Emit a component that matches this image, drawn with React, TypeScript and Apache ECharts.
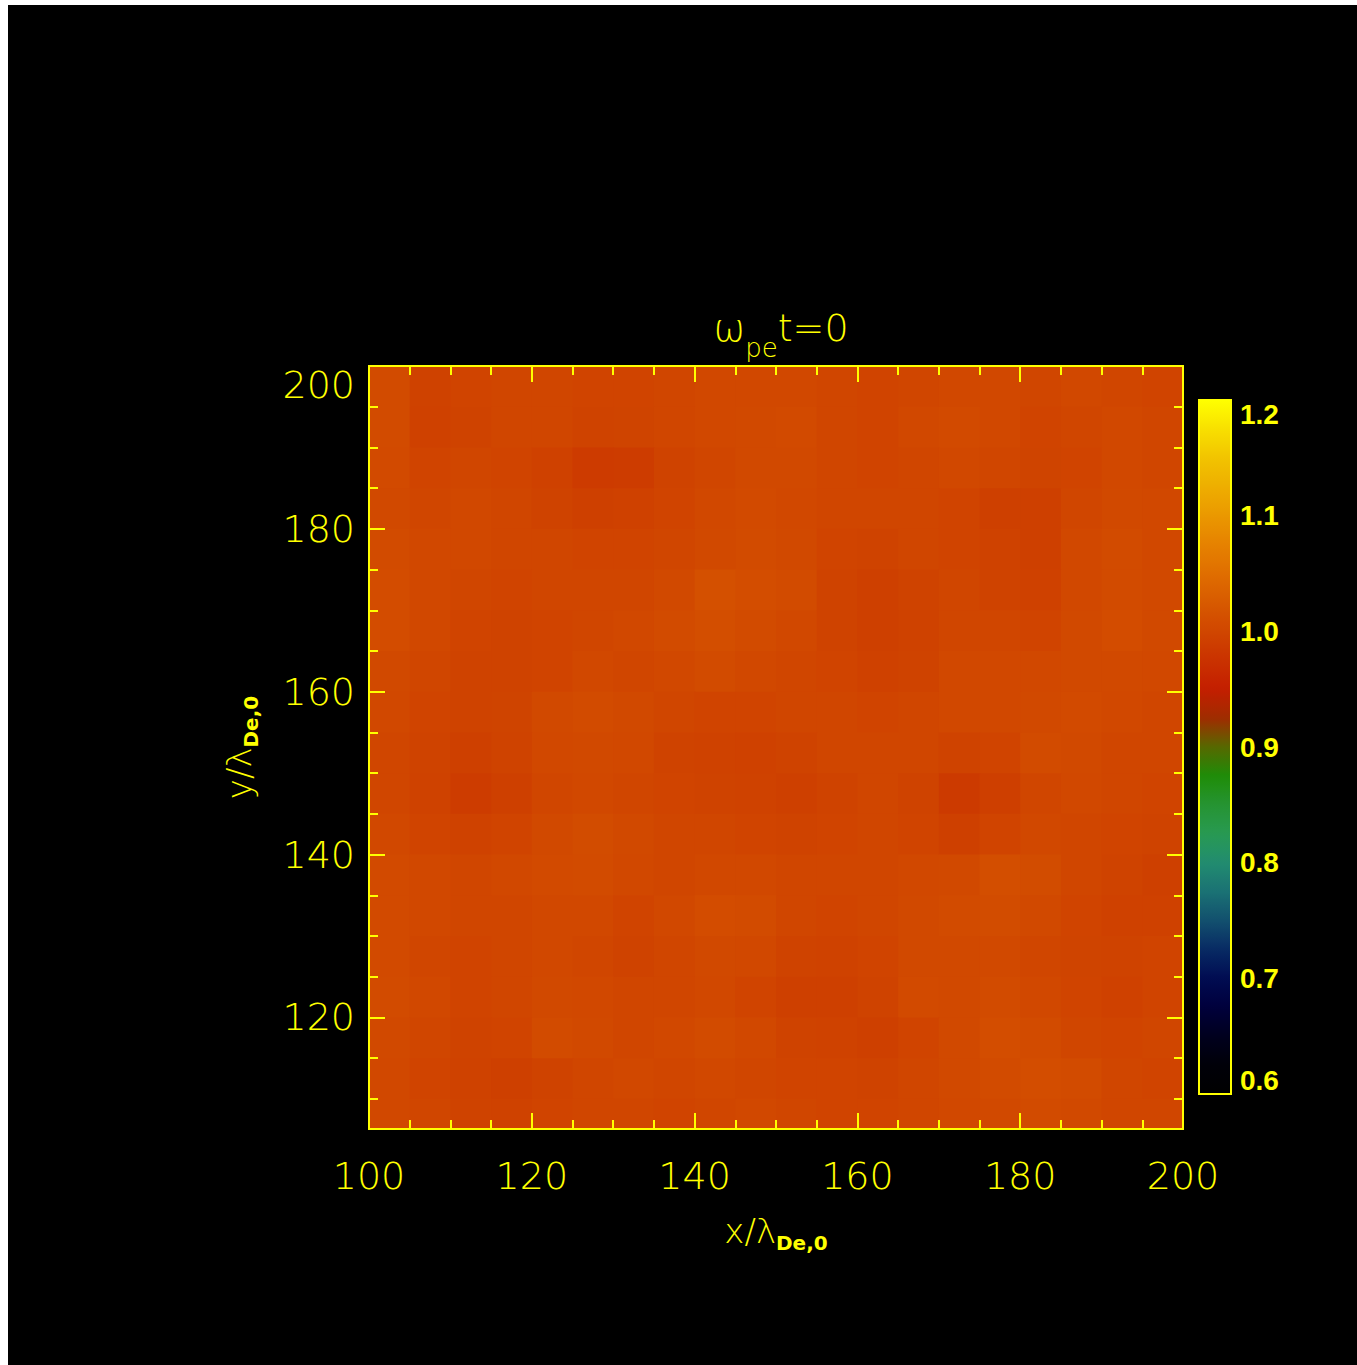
import React, { useEffect, useRef } from "react";
import * as echarts from "echarts";

// Plot extents (in Debye lengths)
const X_MIN = 100;
const X_MAX = 200;
const Y_MIN = 106.3;
const Y_MAX = 200;
const CELL = 5;

// Tick positions on the y axes
const yMajorTicks = [120, 140, 160, 180, 200];
const yMinorTicks = [110, 115, 125, 130, 135, 145, 150, 155, 165, 170, 175, 185, 190, 195];

// Normalised electron density, 5x5 cells; first row is y = 195..200, columns x = 100..200
const densityRows: number[][] = [
  [1.006, 0.995, 0.998, 1.0, 1.0, 0.998, 0.998, 1.0, 1.002, 1.002, 1.003, 1.0, 0.998, 1.0, 1.003, 1.002, 1.0, 1.002, 1.0, 0.998],
  [1.006, 0.994, 0.996, 1.0, 1.0, 0.996, 0.997, 1.0, 1.002, 1.004, 1.005, 1.0, 0.998, 1.002, 1.005, 1.002, 0.998, 1.0, 1.002, 1.0],
  [1.005, 0.998, 1.0, 0.998, 0.994, 0.986, 0.988, 0.996, 1.0, 1.004, 1.004, 1.0, 0.998, 1.0, 1.002, 1.0, 0.997, 0.998, 1.003, 1.0],
  [1.004, 1.0, 1.003, 1.0, 0.996, 0.992, 0.994, 0.998, 1.002, 1.005, 1.003, 1.0, 1.0, 1.0, 0.998, 0.992, 0.993, 1.0, 1.004, 1.002],
  [1.006, 1.002, 1.002, 1.0, 1.0, 0.998, 0.998, 1.0, 1.004, 1.006, 1.004, 0.998, 0.996, 1.0, 0.998, 0.995, 0.993, 1.002, 1.006, 1.003],
  [1.008, 1.003, 1.0, 0.998, 1.0, 1.0, 1.0, 1.004, 1.012, 1.009, 1.006, 0.996, 0.992, 0.996, 1.0, 0.996, 0.994, 1.002, 1.006, 1.004],
  [1.008, 1.002, 0.998, 0.996, 0.998, 1.0, 1.002, 1.006, 1.01, 1.006, 1.002, 0.996, 0.992, 0.995, 1.0, 1.0, 0.998, 1.004, 1.008, 1.004],
  [1.004, 1.0, 0.996, 0.996, 0.998, 1.002, 1.0, 1.002, 1.006, 1.003, 1.0, 0.998, 0.994, 0.996, 1.002, 1.003, 1.002, 1.004, 1.004, 1.002],
  [1.002, 0.998, 0.996, 0.997, 1.004, 1.006, 1.004, 1.0, 0.998, 0.998, 1.0, 1.0, 0.998, 1.0, 1.002, 1.003, 1.004, 1.005, 1.002, 1.0],
  [1.0, 0.996, 0.993, 0.996, 1.002, 1.004, 1.002, 0.996, 0.995, 0.994, 0.996, 1.0, 1.0, 1.0, 0.996, 0.998, 1.006, 1.004, 1.0, 1.0],
  [1.0, 0.995, 0.988, 0.993, 1.0, 1.002, 1.0, 0.998, 0.996, 0.995, 0.992, 0.996, 1.0, 0.996, 0.985, 0.991, 1.0, 1.002, 1.0, 0.998],
  [1.003, 0.998, 0.995, 0.998, 1.004, 1.007, 1.004, 1.0, 1.0, 0.998, 0.996, 0.998, 1.0, 0.998, 0.993, 0.998, 1.002, 1.0, 0.998, 0.996],
  [1.005, 1.002, 1.0, 1.002, 1.005, 1.006, 1.002, 1.0, 1.003, 1.002, 1.0, 1.0, 1.0, 1.002, 1.004, 1.01, 1.007, 1.0, 0.996, 0.992],
  [1.005, 1.002, 1.0, 1.0, 1.003, 1.002, 0.998, 1.002, 1.008, 1.006, 1.0, 0.998, 1.0, 1.004, 1.006, 1.007, 1.004, 0.998, 0.994, 0.994],
  [1.005, 1.0, 0.998, 1.0, 1.002, 1.0, 0.996, 1.0, 1.004, 1.002, 0.996, 0.995, 0.998, 1.004, 1.004, 1.004, 1.0, 0.997, 0.996, 0.998],
  [1.006, 1.002, 0.998, 1.0, 1.004, 1.003, 1.0, 1.0, 1.002, 0.998, 0.992, 0.993, 0.996, 1.005, 1.004, 1.006, 1.002, 0.998, 0.994, 0.998],
  [1.004, 1.0, 0.996, 0.998, 1.006, 1.004, 1.0, 1.002, 1.006, 1.002, 0.996, 0.995, 0.992, 0.998, 1.004, 1.009, 1.006, 1.0, 0.998, 1.0],
  [1.002, 0.998, 0.995, 0.992, 0.996, 1.0, 1.002, 1.0, 1.002, 1.0, 0.998, 0.998, 0.996, 1.0, 1.004, 1.006, 1.009, 1.006, 1.0, 0.998],
  [1.002, 1.0, 0.996, 0.995, 0.998, 1.0, 1.0, 0.998, 1.0, 1.002, 1.0, 0.998, 0.998, 1.0, 1.002, 1.004, 1.006, 1.004, 1.0, 1.0],
];

// Colour scale 0.6 .. 1.2, evenly spaced stops
const COLOR_MIN = 0.6;
const COLOR_MAX = 1.2;
const colorStops = [
  "#000000", "#000008", "#00001e", "#00003c", "#000c52", "#082a64", "#12506e",
  "#1a7274", "#228c70", "#289a52", "#269432", "#1e8c08", "#566800", "#a02c00",
  "#c41e00", "#ca3200", "#d04600", "#d85a00", "#e06e00", "#e68200", "#ea9800",
  "#eeae00", "#f2c400", "#f8e000", "#ffff00",
];

const YELLOW = "#ffff00";
const FONT = "DejaVu Sans";

const cells: number[][] = [];
densityRows.forEach((row, j) => {
  row.forEach((v, i) => {
    cells.push([X_MIN + i * CELL, Y_MAX - (j + 1) * CELL, v]);
  });
});

const lineStyle = { color: YELLOW, width: 2 };

const nameRich = {
  m: { fontFamily: FONT, fontSize: 34, color: YELLOW, fontWeight: 200 as any },
  s: { fontFamily: FONT, fontSize: 20, color: YELLOW, fontWeight: "bold" as any, padding: [24, 0, 0, 0] },
};

const xBase: any = {
  type: "value",
  gridIndex: 0,
  min: X_MIN,
  max: X_MAX,
  interval: 20,
  z: 10,
  splitLine: { show: false },
  axisLine: { show: true, onZero: false, lineStyle },
  axisTick: { show: true, inside: true, length: 16, lineStyle },
  minorTick: { show: true, splitNumber: 4, length: 9, lineStyle },
};

const yBase: any = {
  type: "value",
  gridIndex: 0,
  min: Y_MIN,
  max: Y_MAX,
  z: 10,
  splitLine: { show: false },
  axisLine: { show: true, onZero: false, lineStyle },
};

export default function App() {
  const ref = useRef<HTMLDivElement>(null);

  useEffect(() => {
    if (!ref.current) return;
    const chart = echarts.init(ref.current, undefined, { renderer: "svg" });
    chart.setOption({
      animation: false,
      backgroundColor: "#000000",
      title: {
        text: "{m|ω}{s|pe}{m|t=0}",
        left: 768,
        top: 285,
        textAlign: "center",
        textStyle: {
          rich: {
            m: { fontFamily: FONT, fontSize: 38, color: YELLOW, fontWeight: 200 as any, lineHeight: 44 },
            s: { fontFamily: FONT, fontSize: 26, color: YELLOW, fontWeight: 200 as any, padding: [40, 0, 0, 0] },
          },
        },
      },
      grid: [
        { left: 361, top: 361, width: 814, height: 763, show: false },
        {
          left: 1191,
          top: 395,
          width: 32,
          height: 694,
          show: true,
          z: 10,
          backgroundColor: "transparent",
          borderColor: YELLOW,
          borderWidth: 2,
        },
      ],
      xAxis: [
        {
          ...xBase,
          position: "bottom",
          axisLabel: {
            show: true,
            color: YELLOW,
            fontFamily: FONT,
            fontWeight: 200,
            fontSize: 38,
            lineHeight: 38,
            margin: 28,
            showMinLabel: true,
            showMaxLabel: true,
          },
          name: "{m|x/λ}{s|De,0}",
          nameLocation: "middle",
          nameGap: 80,
          nameTextStyle: { rich: nameRich },
        },
        { ...xBase, position: "top", axisLabel: { show: false } },
        { type: "value", gridIndex: 1, min: 0, max: 1, show: false },
      ],
      yAxis: [
        {
          ...yBase,
          position: "left",
          axisTick: { show: true, inside: true, length: 16, lineStyle, customValues: yMajorTicks },
          axisLabel: {
            show: true,
            customValues: yMajorTicks,
            color: YELLOW,
            fontFamily: FONT,
            fontWeight: 200,
            fontSize: 38,
            lineHeight: 38,
            margin: 14,
            verticalAlignMaxLabel: "top",
          },
          name: "{m|y/λ}{s|De,0}",
          nameLocation: "middle",
          nameGap: 108,
          nameTextStyle: { rich: nameRich },
        },
        {
          ...yBase,
          position: "right",
          axisTick: { show: true, inside: true, length: 16, lineStyle, customValues: yMajorTicks },
          axisLabel: { show: false },
        },
        {
          ...yBase,
          position: "left",
          axisTick: { show: true, inside: true, length: 9, lineStyle, customValues: yMinorTicks },
          axisLabel: { show: false },
        },
        {
          ...yBase,
          position: "right",
          axisTick: { show: true, inside: true, length: 9, lineStyle, customValues: yMinorTicks },
          axisLabel: { show: false },
        },
        {
          type: "value",
          gridIndex: 1,
          position: "right",
          min: COLOR_MIN,
          max: COLOR_MAX,
          interval: 0.1,
          splitLine: { show: false },
          axisLine: { show: false },
          axisTick: { show: false },
          axisLabel: {
            show: true,
            color: YELLOW,
            fontFamily: "Liberation Sans",
            fontWeight: "bold",
            fontSize: 28,
            margin: 9,
            showMinLabel: true,
            showMaxLabel: true,
            verticalAlignMaxLabel: "top",
            verticalAlignMinLabel: "bottom",
            formatter: (v: number) => v.toFixed(1),
          },
        },
      ],
      visualMap: {
        type: "continuous",
        seriesIndex: 0,
        dimension: 2,
        min: COLOR_MIN,
        max: COLOR_MAX,
        calculable: false,
        orient: "vertical",
        left: 1191,
        top: 395,
        itemWidth: 32,
        itemHeight: 694,
        padding: 0,
        inRange: { color: colorStops },
        textStyle: { color: YELLOW },
      },
      series: [
        {
          type: "custom",
          xAxisIndex: 0,
          yAxisIndex: 0,
          data: cells,
          encode: { x: 0, y: 1 },
          renderItem: (params: any, api: any) => {
            const x0 = api.value(0);
            const y0 = api.value(1);
            const tl = api.coord([x0, y0 + CELL]);
            const br = api.coord([x0 + CELL, y0]);
            const cs = params.coordSys;
            const shape = echarts.graphic.clipRectByRect(
              { x: tl[0], y: tl[1], width: br[0] - tl[0] + 1, height: br[1] - tl[1] + 1 },
              { x: cs.x, y: cs.y, width: cs.width, height: cs.height }
            );
            if (!shape) return null;
            return { type: "rect", shape, style: { fill: api.visual("color") } };
          },
        },
      ],
    });
    return () => chart.dispose();
  }, []);

  return (
    <div
      ref={ref}
      style={{ position: "absolute", left: 8, top: 5, width: 1349, height: 1360, background: "#000" }}
    />
  );
}
